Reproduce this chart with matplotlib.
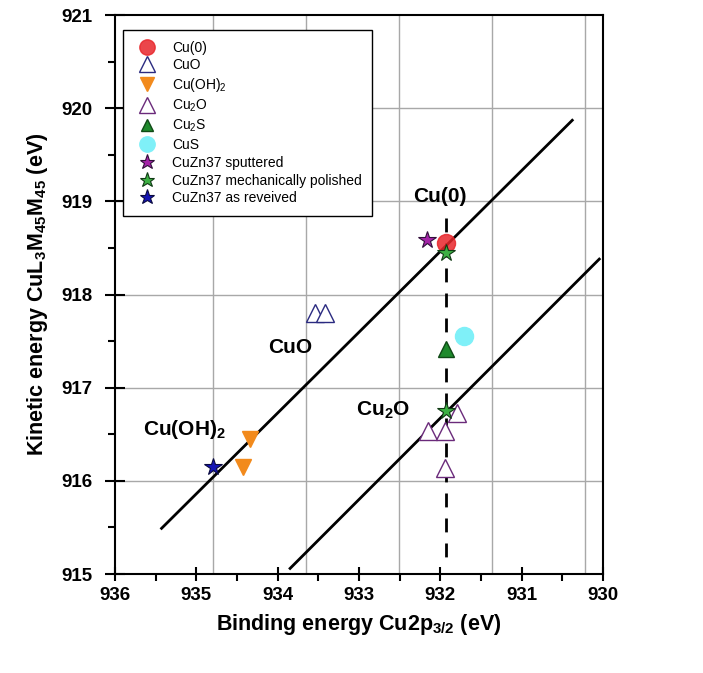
import numpy as np
import matplotlib
matplotlib.use("Agg")
import matplotlib.pyplot as plt

plt.rcParams['font.family'] = ['Liberation Sans', 'DejaVu Sans']
plt.rcParams['mathtext.default'] = 'regular'

# Binding energy (Cu2p3/2) / kinetic energy (CuL3M45M45) pairs, eV
cu0_be, cu0_ke = [932.5], [918.55]
cuo_be, cuo_ke = [933.9, 933.8], [917.8, 917.8]
cuoh2_be, cuoh2_ke = [934.6, 934.68], [916.45, 916.15]
cu2o_be = [932.38, 932.69, 932.51, 932.51]
cu2o_ke = [916.73, 916.53, 916.53, 916.14]
cu2s_be, cu2s_ke = [932.5], [917.42]
cus_be, cus_ke = [932.3], [917.55]
sputtered_be, sputtered_ke = [932.7], [918.58]
polished_be, polished_ke = [932.5, 932.5], [918.45, 916.75]
received_be, received_ke = [935.0], [916.15]

# constant Auger parameter lines
line_cu0_be, line_cu0_ke = [935.55, 931.14], [915.49, 919.87]
line_cu2o_be, line_cu2o_ke = [934.17, 930.85], [915.06, 918.38]
dash_be, dash_ke = [932.5, 932.5], [918.82, 915.17]

x_tick_labels = ['936', '935', '934', '933', '932', '931', '930']
x_limits = (936.05, 930.81)
x_grid = [935, 934, 933, 932, 931]
y_ticks = [915, 916, 917, 918, 919, 920, 921]

fig = plt.figure(figsize=(7.03, 6.73), dpi=100)
ax = fig.add_axes([115 / 703, 1 - 574 / 673, 488 / 703, 559 / 673])

ax.set_xlim(*x_limits)
ax.set_ylim(915, 921)

# grid
for gx in x_grid:
    ax.axvline(gx, color='#a8a8a8', lw=1.0, zorder=0)
for gy in y_ticks[1:-1]:
    ax.axhline(gy, color='#a8a8a8', lw=1.0, zorder=0)

# reference lines
ax.plot(line_cu0_be, line_cu0_ke, color='black', lw=2.0, zorder=2)
ax.plot(line_cu2o_be, line_cu2o_ke, color='black', lw=2.0, zorder=2)
ax.plot(dash_be, dash_ke, color='black', lw=2.0, ls=(0, (5, 4)), zorder=2)

ms = 13
ax.plot(cu0_be, cu0_ke, 'o', ms=ms, color='#e8262b', mec='#e8262b', alpha=0.85, label='Cu(0)', zorder=3)
ax.plot(cuo_be, cuo_ke, '^', ms=ms, mfc='white', mec='#2a2a80', mew=1.0, ls='none', label='CuO', zorder=3)
ax.plot(cuoh2_be, cuoh2_ke, 'v', ms=ms - 1, color='#f28a1c', ls='none', label='Cu(OH)$_2$', zorder=3)
ax.plot(cu2o_be, cu2o_ke, '^', ms=ms, mfc='white', mec='#6a2a7a', mew=1.0, ls='none', label='Cu$_2$O', zorder=3)
ax.plot(cu2s_be, cu2s_ke, '^', ms=ms - 2, color='#1e8a2c', mec='#0f4a16', mew=1.0, label='Cu$_2$S', zorder=4)
ax.plot(cus_be, cus_ke, 'o', ms=ms, color='#7ff0f8', mec='#7ff0f8', label='CuS', zorder=3)
ax.plot(sputtered_be, sputtered_ke, '*', ms=ms, color='#a424a8', mec='#30103a', mew=0.8, label='CuZn37 sputtered', zorder=4)
ax.plot(polished_be, polished_ke, '*', ms=ms, color='#3cb043', mec='#103a14', mew=0.8, ls='none', label='CuZn37 mechanically polished', zorder=5)
ax.plot(received_be, received_ke, '*', ms=ms, color='#1414b4', mec='#0a0a40', mew=0.8, label='CuZn37 as reveived', zorder=4)

# phase annotations
ax.text(932.56, 919.05, 'Cu(0)', fontsize=15, fontweight='bold', ha='center', va='center')
ax.text(934.17, 917.43, 'CuO', fontsize=15, fontweight='bold', ha='center', va='center')
ax.text(933.17, 916.76, 'Cu$_2$O', fontsize=15, fontweight='bold', ha='center', va='center')
ax.text(935.3, 916.55, 'Cu(OH)$_2$', fontsize=15, fontweight='bold', ha='center', va='center')

# ticks: the labelled binding-energy scale spans the full axis width
x_tick_pos = np.linspace(x_limits[0], x_limits[1], len(x_tick_labels))
ax.set_xticks(x_tick_pos, x_tick_labels)
ax.set_xticks((x_tick_pos[:-1] + x_tick_pos[1:]) / 2, minor=True)
ax.set_yticks(y_ticks)
ax.set_yticks(np.arange(915.5, 921, 1.0), minor=True)
ax.tick_params(which='major', direction='inout', length=10, width=1.5, labelsize=13.5)
ax.tick_params(which='minor', direction='out', length=5, width=1.5)
ax.tick_params(axis='y', which='major', length=14, pad=9)
ax.tick_params(axis='x', which='major', pad=4)
for lbl in ax.get_xticklabels() + ax.get_yticklabels():
    lbl.set_fontweight('bold')
for sp in ax.spines.values():
    sp.set_linewidth(1.5)

ax.set_xlabel('Binding energy Cu2p$_{3/2}$ (eV)', fontsize=15.5, fontweight='bold', labelpad=6)
ax.set_ylabel('Kinetic energy CuL$_3$M$_{45}$M$_{45}$ (eV)', fontsize=15.5, fontweight='bold', labelpad=8)

leg = ax.legend(loc='upper left', bbox_to_anchor=(0.016, 0.973), fontsize=10,
                frameon=True, fancybox=False, edgecolor='black', framealpha=1,
                borderaxespad=0, borderpad=0.75, labelspacing=0.27,
                handlelength=2.0, handletextpad=0.8, markerscale=0.85)
leg.get_frame().set_linewidth(1.0)

fig.savefig('out.png', dpi=100)
